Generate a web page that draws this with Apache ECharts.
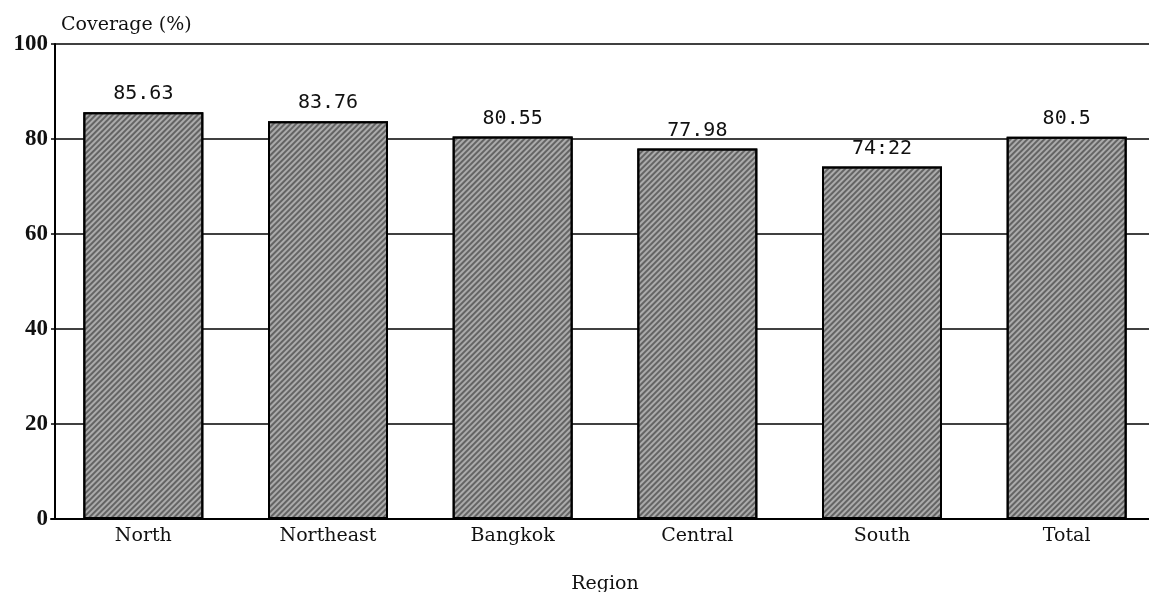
<!DOCTYPE html>
<html><head><meta charset="utf-8">
<script src="https://cdn.jsdelivr.net/npm/echarts@6/dist/echarts.min.js"></script>
<style>html,body{margin:0;padding:0;background:#fff}#c{width:1149px;height:592px}</style>
</head><body><div id="c"></div>
<script>
var categories = ['North', 'Northeast', 'Bangkok', 'Central', 'South', 'Total'];
var coverage = [85.63, 83.76, 80.55, 77.98, 74.22, 80.5];
var coverageLabels = ['85.63', '83.76', '80.55', '77.98', '74:22', '80.5'];
var yTicks = [0, 20, 40, 60, 80, 100];

var chart = echarts.init(document.getElementById('c'), null, {renderer: 'canvas'});
chart.setOption({
  animation: false,
  backgroundColor: '#fff',
  grid: {left: 51, right: -10, top: 44, bottom: 73, containLabel: false, outerBoundsMode: 'none'},
  xAxis: {
    type: 'category', data: categories,
    name: 'Region', nameLocation: 'middle', nameGap: 56,
    nameTextStyle: {fontFamily: 'DejaVu Serif', fontSize: 19, color: '#111'},
    axisLine: {lineStyle: {color: '#000', width: 2}},
    axisTick: {show: false},
    axisLabel: {fontFamily: 'DejaVu Serif', fontSize: 19, color: '#111', margin: 8}
  },
  yAxis: {
    type: 'value', min: 0, max: 100, interval: 20, offset: -4,
    name: 'Coverage (%)', nameLocation: 'end', nameGap: 9,
    nameTextStyle: {fontFamily: 'DejaVu Serif', fontSize: 19, color: '#111', align: 'left', padding: [0, 0, 0, 6]},
    axisLine: {show: true, lineStyle: {color: '#000', width: 2}},
    axisTick: {show: false},
    axisLabel: {fontFamily: 'Liberation Serif', fontWeight: 'bold', fontSize: 23, color: '#111', margin: 7,
      formatter: function (v) { return yTicks.indexOf(v) >= 0 ? String(v) : ''; }},
    splitLine: {show: true, lineStyle: {color: '#000', width: 1.5}}
  },
  series: [{
    type: 'bar', data: coverage, barWidth: 120,
    itemStyle: {color: '#ababab', borderColor: '#000', borderWidth: 2,
      decal: {symbol: 'rect', color: 'rgba(30,30,30,0.5)', dashArrayX: [1, 0], dashArrayY: [2, 2], rotation: -Math.PI / 4, symbolSize: 1}},
    label: {show: true, position: 'top', distance: 8, fontFamily: 'DejaVu Sans Mono', fontSize: 20, color: '#111',
      formatter: function (p) { return coverageLabels[p.dataIndex]; }}
  }]
});
</script></body></html>
